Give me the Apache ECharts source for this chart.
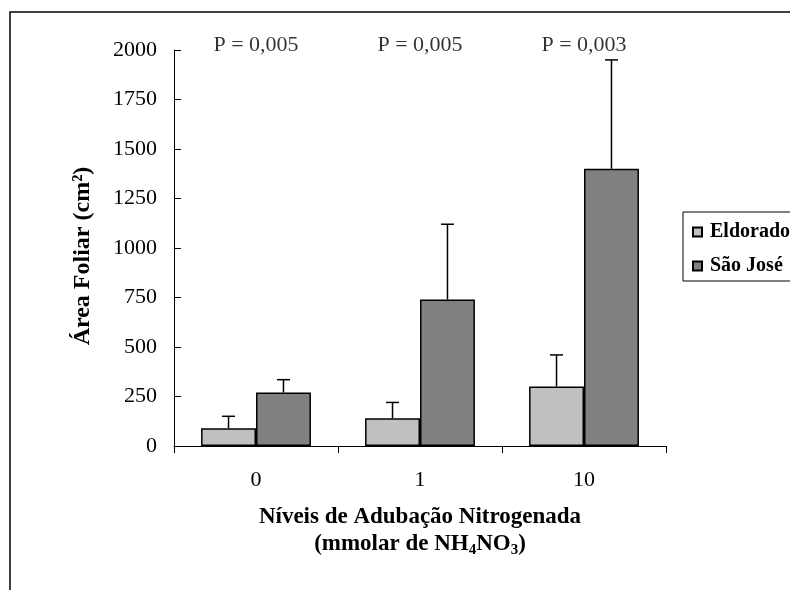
<!DOCTYPE html>
<html>
<head>
<meta charset="utf-8">
<script src="https://cdn.jsdelivr.net/npm/echarts@6/dist/echarts.min.js"></script>
<style>
  html, body { margin: 0; padding: 0; background: #fff; }
  #chart { width: 790px; height: 590px; }
</style>
</head>
<body>
<div id="chart"></div>
<script>
// dados
const niveis = ['0', '1', '10']
const eldorado = [90, 140, 300]
const eldoradoErr = [60, 80, 160]
const saoJose = [270, 740, 1400]
const saoJoseErr = [65, 380, 550]
const pLabels = ['P = 0,005', 'P = 0,005', 'P = 0,003']
const yTicks = [0, 250, 500, 750, 1000, 1250, 1500, 1750, 2000]

const FONT = 'Liberation Serif'
const GAP = 0.33

function errData(vals, errs, s){
    return vals.map((v, i) => [i, v, errs[i], s])
}

function renderErr(params, api){
    const cat = api.value(0), val = api.value(1), err = api.value(2), s = api.value(3)
    const band = api.size([1, 0])[0]
    const bw = band * (1 - GAP) / 2
    const x = api.coord([cat, 0])[0] + (s === 0 ? -bw / 2 : bw / 2)
    const yBar = api.coord([cat, val])[1]
    const yTop = api.coord([cat, val + err])[1]
    const st = { stroke: '#000', lineWidth: 1.5 }
    return {
        type: 'group',
        children: [
            { type: 'line', shape: { x1: x, y1: yBar, x2: x, y2: yTop }, style: st },
            { type: 'line', shape: { x1: x - 6.5, y1: yTop, x2: x + 6.5, y2: yTop }, style: st }
        ]
    }
}

const chart = echarts.init(document.getElementById('chart'), null, { renderer: 'canvas' })

const option = {
    backgroundColor: '#fff',
    animation: false,
    textStyle: { fontFamily: FONT, color: '#000' },
    grid: { left: 174, right: 124, top: 50, bottom: 144, containLabel: false, outerBoundsMode: 'none' },
    graphic: [{
        type: 'rect',
        shape: { x: 10, y: 12, width: 800, height: 600 },
        style: { fill: 'none', stroke: '#000', lineWidth: 1.5 },
        silent: true
    }],
    legend: {
        data: ['Eldorado', 'São José'],
        orient: 'vertical',
        left: 683,
        top: 212,
        itemWidth: 9,
        itemHeight: 9,
        itemGap: 14,
        icon: 'rect',
        padding: [10, 10, 5, 9],
        borderColor: '#000',
        borderWidth: 1,
        backgroundColor: '#fff',
        textStyle: { fontFamily: FONT, fontWeight: 'bold', fontSize: 20, color: '#000', padding: [0, 0, 0, 3] }
    },
    xAxis: {
        type: 'category',
        data: niveis,
        axisLine: { lineStyle: { color: '#000', width: 1 } },
        axisTick: { show: true, inside: false, length: 7, lineStyle: { color: '#000' } },
        axisLabel: { fontFamily: FONT, fontSize: 22, color: '#000', margin: 23 },
        splitLine: { show: false },
        name: '{b|Níveis de Adubação Nitrogenada}\n{b|(mmolar de NH}{s|4}{b|NO}{s|3}{b|)}',
        nameLocation: 'middle',
        nameGap: 58,
        nameTextStyle: {
            fontFamily: FONT,
            rich: {
                b: { fontFamily: FONT, fontWeight: 'bold', fontSize: 23, lineHeight: 27, color: '#000' },
                s: { fontFamily: FONT, fontWeight: 'bold', fontSize: 15, lineHeight: 15, verticalAlign: 'bottom', color: '#000' }
            }
        }
    },
    yAxis: {
        type: 'value',
        min: yTicks[0],
        max: yTicks[yTicks.length - 1],
        interval: yTicks[1] - yTicks[0],
        axisLine: { show: true, lineStyle: { color: '#000', width: 1 } },
        axisTick: { show: true, inside: true, length: 7, lineStyle: { color: '#000' } },
        axisLabel: { fontFamily: FONT, fontSize: 22, color: '#000', margin: 17, formatter: v => String(v) },
        splitLine: { show: false },
        name: 'Área Foliar (cm²)',
        nameLocation: 'middle',
        nameRotate: 90,
        nameGap: 79,
        nameTextStyle: { fontFamily: FONT, fontWeight: 'bold', fontSize: 24, color: '#000', padding: [0, 16, 0, 0] }
    },
    series: [
        {
            name: 'Eldorado',
            type: 'bar',
            data: eldorado,
            barGap: '0%',
            barCategoryGap: (GAP * 100) + '%',
            itemStyle: { color: '#C0C0C0', borderColor: '#000', borderWidth: 1.5 }
        },
        {
            name: 'São José',
            type: 'bar',
            data: saoJose,
            barGap: '0%',
            barCategoryGap: (GAP * 100) + '%',
            itemStyle: { color: '#808080', borderColor: '#000', borderWidth: 1.5 }
        },
        {
            name: 'erroE',
            type: 'custom',
            renderItem: renderErr,
            data: errData(eldorado, eldoradoErr, 0),
            z: 5,
            clip: false
        },
        {
            name: 'erroS',
            type: 'custom',
            renderItem: renderErr,
            data: errData(saoJose, saoJoseErr, 1),
            z: 5,
            clip: false
        },
        {
            name: 'P',
            type: 'scatter',
            symbolSize: 0,
            data: niveis.map((n, i) => [i, yTicks[yTicks.length - 1]]),
            label: {
                show: true,
                position: 'inside',
                offset: [0, -5],
                fontFamily: FONT,
                fontSize: 22,
                color: '#000',
                formatter: p => pLabels[p.dataIndex]
            },
            z: 6
        }
    ]
}
chart.setOption(option)
</script>
</body>
</html>
